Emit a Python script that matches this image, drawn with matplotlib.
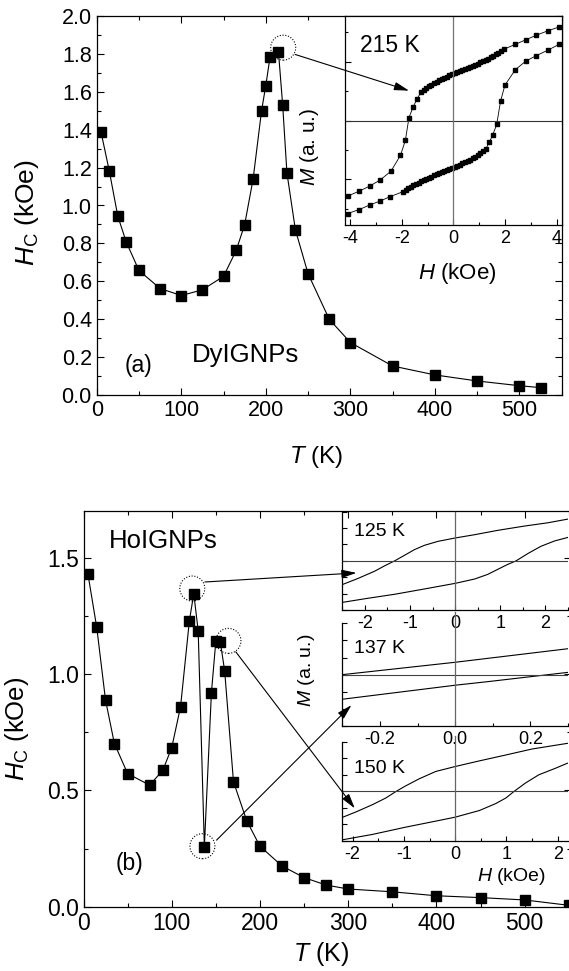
import matplotlib
matplotlib.use("Agg")
import matplotlib.pyplot as plt
from matplotlib.ticker import MultipleLocator, NullFormatter
from matplotlib.patches import FancyArrowPatch

plt.rcParams['font.family'] = ['Liberation Sans', 'DejaVu Sans']
plt.rcParams['mathtext.fontset'] = 'custom'
plt.rcParams['mathtext.rm'] = 'Liberation Sans'
plt.rcParams['mathtext.it'] = 'Liberation Sans:italic'
plt.rcParams['axes.unicode_minus'] = False
plt.rcParams['xtick.direction'] = 'in'
plt.rcParams['ytick.direction'] = 'in'

# ---- (a) DyIGNPs coercivity vs T
T_dy = [5, 15, 25, 35, 50, 75, 100, 125, 150, 165, 175, 185, 195, 200, 205,
        215, 220, 225, 235, 250, 275, 300, 350, 400, 450, 500, 525]
Hc_dy = [1.39, 1.18, 0.943, 0.807, 0.657, 0.562, 0.525, 0.555, 0.626, 0.763,
         0.899, 1.14, 1.50, 1.633, 1.783, 1.81, 1.528, 1.172, 0.872, 0.64,
         0.40, 0.277, 0.153, 0.106, 0.074, 0.049, 0.039]

# 215 K loop (arbitrary units), descending branch then ascending branch
H_dn = [4.1, 3.65, 3.2, 2.8, 2.4,
        1.95, 1.85, 1.75, 1.65, 1.55, 1.45, 1.35, 1.25, 1.15, 1.05, 0.95,
        0.85, 0.75, 0.65, 0.55, 0.45, 0.35, 0.25, 0.15, 0.05, -0.05, -0.15,
        -0.25, -0.35, -0.45, -0.55, -0.65, -0.75, -0.85, -0.95, -1.05, -1.15,
        -1.25, -1.41, -1.55, -1.72, -1.86, -2.05, -2.42, -2.85, -3.25, -3.65, -4.1]
M_dn = [0.94, 0.90, 0.855, 0.81, 0.765,
        0.715, 0.695, 0.68, 0.665, 0.65, 0.635, 0.62, 0.61, 0.595, 0.585, 0.572,
        0.56, 0.55, 0.54, 0.528, 0.517, 0.506, 0.495, 0.485, 0.475, 0.464, 0.453,
        0.441, 0.429, 0.416, 0.403, 0.389, 0.375, 0.36, 0.344, 0.327, 0.308,
        0.285, 0.217, 0.14, 0.03, -0.20, -0.35, -0.51, -0.60, -0.66, -0.71, -0.76]
H_up = [-4.1, -3.65, -3.25, -2.85, -2.45,
        -1.95, -1.85, -1.75, -1.65, -1.55, -1.45, -1.35, -1.25, -1.15, -1.05,
        -0.95, -0.85, -0.75, -0.65, -0.55, -0.45, -0.35, -0.25, -0.15, -0.05,
        0.05, 0.15, 0.25, 0.35, 0.45, 0.55, 0.65, 0.75, 0.85, 0.95, 1.05, 1.15,
        1.25, 1.40, 1.52, 1.68, 1.83, 2.0, 2.4, 2.8, 3.2, 3.65, 4.1]
M_up = [-0.935, -0.895, -0.85, -0.81, -0.765,
        -0.715, -0.697, -0.682, -0.667, -0.652, -0.638, -0.624, -0.612, -0.598,
        -0.587, -0.575, -0.563, -0.552, -0.541, -0.53, -0.519, -0.508, -0.497,
        -0.487, -0.477, -0.467, -0.456, -0.444, -0.432, -0.419, -0.406, -0.392,
        -0.378, -0.363, -0.347, -0.33, -0.311, -0.288, -0.215, -0.15, -0.04,
        0.195, 0.355, 0.51, 0.595, 0.65, 0.705, 0.765]

# ---- (b) HoIGNPs coercivity vs T
T_ho = [5, 15, 25, 35, 50, 75, 90, 100, 110, 120, 125, 130, 137, 145, 150,
        155, 160, 170, 185, 200, 225, 250, 275, 300, 350, 400, 450, 500, 550]
Hc_ho = [1.43, 1.20, 0.887, 0.701, 0.572, 0.522, 0.587, 0.683, 0.859, 1.228,
         1.345, 1.185, 0.258, 0.920, 1.141, 1.139, 1.013, 0.537, 0.369, 0.260,
         0.175, 0.125, 0.093, 0.076, 0.064, 0.047, 0.039, 0.029, 0.006]

# inset loops (arbitrary units)
H125_dn = [2.53, 2.05, 1.53, 0.94, 0.43, 0.0, -0.38, -0.68, -0.90, -1.12,
           -1.34, -1.56, -1.78, -2.15, -2.52]
M125_dn = [0.855, 0.774, 0.707, 0.62, 0.532, 0.465, 0.397, 0.316, 0.229, 0.114,
           0.0, -0.10, -0.209, -0.357, -0.49]
H125_up = [-2.52, -1.93, -1.34, -0.68, 0.0, 0.43, 0.72, 0.94, 1.16, 1.35,
           1.61, 1.90, 2.2, 2.53]
M125_up = [-0.848, -0.761, -0.68, -0.572, -0.458, -0.37, -0.276, -0.175,
           -0.074, 0.0, 0.148, 0.296, 0.404, 0.485]

H137_dn = [0.31, 0.0, -0.30]
M137_dn = [0.514, 0.241, 0.0]
H137_up = [-0.30, 0.0, 0.087, 0.31]
M137_up = [-0.479, -0.206, -0.136, 0.053]

H150_dn = [2.19, 1.50, 0.99, 0.47, 0.0, -0.38, -0.70, -0.96, -1.15, -1.35,
           -1.61, -1.93, -2.22]
M150_dn = [0.967, 0.853, 0.733, 0.613, 0.50, 0.40, 0.253, 0.113, 0.0, -0.133,
           -0.267, -0.413, -0.533]
H150_up = [-2.22, -1.61, -0.96, -0.38, 0.0, 0.47, 0.79, 0.99, 1.15, 1.37,
           1.63, 1.96, 2.19]
M150_up = [-0.98, -0.867, -0.72, -0.60, -0.52, -0.387, -0.247, -0.133, 0.0,
           0.167, 0.333, 0.467, 0.567]

W, Hf = 569, 971
fig = plt.figure(figsize=(W / 100, Hf / 100), dpi=100)


def box(l, t, r, b):
    return [l / W, 1 - b / Hf, (r - l) / W, (b - t) / Hf]


def style(ax, lw=0.9, maj=5, mnr=3, size=15):
    for s in ax.spines.values():
        s.set_linewidth(lw)
    ax.tick_params(which='both', width=0.8, top=True, right=True, labelsize=size)
    ax.tick_params(which='major', length=maj)
    ax.tick_params(which='minor', length=mnr)


def arrow(ax, a, b):
    p = FancyArrowPatch(a, b, transform=ax.transData, color='k', lw=0.8,
                        arrowstyle='-|>,head_length=0.9,head_width=0.25',
                        mutation_scale=10, shrinkA=0, shrinkB=0, zorder=5)
    fig.add_artist(p)


# ================= panel (a)
ax1 = fig.add_axes(box(96.7, 16, 561.7, 395))
ax1.plot(T_dy, Hc_dy, 'k-', lw=0.8, marker='s', ms=6.5)
ax1.set_xlim(0, 550)
ax1.set_ylim(0, 2.0)
ax1.xaxis.set_major_locator(MultipleLocator(100))
ax1.xaxis.set_minor_locator(MultipleLocator(50))
ax1.yaxis.set_major_locator(MultipleLocator(0.2))
ax1.yaxis.set_minor_locator(MultipleLocator(0.1))
style(ax1, size=15.5)
ax1.set_xlabel(r'$\mathit{T}$ (K)', fontsize=17.5)
ax1.set_ylabel(r'$\mathit{H}_{\mathrm{C}}$ (kOe)', fontsize=19)
ax1.xaxis.set_label_coords(0.473, -0.13)
ax1.yaxis.set_label_coords(-0.12, 0.48)
ax1.text(112.4, 0.176, 'DyIGNPs', fontsize=18.5)
ax1.text(33.5, 0.122, '(a)', fontsize=16.5)
ax1.scatter([220.6], [1.833], s=18 ** 2, facecolors='none', edgecolors='k',
            linewidths=0.8, linestyle=(0, (1, 1.5)), zorder=4, clip_on=False)
arrow(ax1, (234.8, 1.797), (369.4, 1.606))

in1 = fig.add_axes(box(345, 16, 561.7, 225))
in1.plot(H_dn, M_dn, 'k-', lw=0.6, marker='s', ms=3.4)
in1.plot(H_up, M_up, 'k-', lw=0.6, marker='s', ms=3.4)
in1.axhline(0, color='0.2', lw=0.8)
in1.axvline(0, color='0.45', lw=0.9)
in1.set_xlim(-4.2, 4.2)
in1.set_ylim(-1.05, 1.05)
in1.xaxis.set_major_locator(MultipleLocator(2))
in1.xaxis.set_minor_locator(MultipleLocator(1))
in1.set_yticks([-0.59, 0, 0.59])
in1.set_yticks([-0.885, -0.295, 0.295, 0.885], minor=True)
in1.yaxis.set_major_formatter(NullFormatter())
style(in1, maj=4, mnr=2.5, size=13)
in1.tick_params(which='both', top=False, right=False)
in1.set_xlabel(r'$\mathit{H}$ (kOe)', fontsize=16)
in1.xaxis.set_label_coords(0.52, -0.17)
in1.set_ylabel(r'$\mathit{M}$ (a. u.)', fontsize=15)
in1.yaxis.set_label_coords(-0.11, 0.373)
in1.text(0.07, 0.861, '215 K', transform=in1.transAxes, fontsize=16.5, va='center')

# ================= panel (b)
ax2 = fig.add_axes(box(83.5, 511, 570.5, 906.7))
ax2.plot(T_ho, Hc_ho, 'k-', lw=0.8, marker='s', ms=6.5)
ax2.set_xlim(0, 552)
ax2.set_ylim(0, 1.7)
ax2.xaxis.set_major_locator(MultipleLocator(100))
ax2.xaxis.set_minor_locator(MultipleLocator(50))
ax2.yaxis.set_major_locator(MultipleLocator(0.5))
ax2.yaxis.set_minor_locator(MultipleLocator(0.25))
style(ax2, size=16.5)
ax2.set_xlabel(r'$\mathit{T}$ (K)', fontsize=18)
ax2.set_ylabel(r'$\mathit{H}_{\mathrm{C}}$ (kOe)', fontsize=18.5)
ax2.xaxis.set_label_coords(0.488, -0.085)
ax2.yaxis.set_label_coords(-0.108, 0.45)
ax2.text(29, 1.539, 'HoIGNPs', fontsize=18.5)
ax2.text(36, 0.158, '(b)', fontsize=16.5)
ax2.scatter([123.3, 134.8, 164.3], [1.367, 0.260, 1.142], s=18 ** 2,
            facecolors='none', edgecolors='k', linewidths=0.8,
            linestyle=(0, (1, 1.5)), zorder=4, clip_on=False)
arrow(ax2, (137.6, 1.395), (309.4, 1.434))
arrow(ax2, (150.8, 0.286), (303.7, 0.866))
arrow(ax2, (172.6, 1.095), (307.5, 0.4225))

loops = [
    ((342.3, 511.7, 568, 610), (-2.5, 2.5), 1, 0.5, H125_dn, M125_dn, H125_up, M125_up, '125 K', 0.80, 1.0),
    ((342.3, 623.3, 568, 726), (-0.3, 0.3), 0.2, 0.1, H137_dn, M137_dn, H137_up, M137_up, '137 K', 0.757, 1.11),
    ((342.3, 741.7, 568, 841), (-2.2, 2.2), 1, 0.5, H150_dn, M150_dn, H150_up, M150_up, '150 K', 0.732, 1.06),
]
insets = []
for pos, xl, mj, mn, hd, md, hu, mu, lab, ly, vtop in loops:
    ax = fig.add_axes(box(*pos))
    ax.set_facecolor('none')
    ax.plot(hd, md, 'k-', lw=0.8)
    ax.plot(hu, mu, 'k-', lw=0.8)
    ax.axhline(0, color='0.25', lw=0.8)
    ax.axvline(0, ymax=vtop, color='0.4', lw=0.9, clip_on=False)
    ax.set_xlim(*xl)
    ax.set_ylim(-1, 1)
    ax.xaxis.set_major_locator(MultipleLocator(mj))
    ax.xaxis.set_minor_locator(MultipleLocator(mn))
    ax.yaxis.set_major_locator(MultipleLocator(1 / 3))
    ax.yaxis.set_major_formatter(NullFormatter())
    style(ax, maj=3.5, mnr=2, size=13)
    ax.tick_params(which='both', top=False, right=False)
    ax.spines['top'].set_visible(False)
    ax.spines['right'].set_visible(False)
    ax.text(0.05, ly, lab, transform=ax.transAxes, fontsize=14, va='center')
    insets.append(ax)

insets[0].set_xticklabels([f'{v:g}' for v in insets[0].get_xticks()])
insets[1].set_ylabel(r'$\mathit{M}$ (a. u.)', fontsize=14)
insets[1].yaxis.set_label_coords(-0.112, 0.545)
insets[2].set_xlabel(r'$\mathit{H}$ (kOe)', fontsize=14)
insets[2].xaxis.set_label_coords(0.75, -0.25)

fig.savefig('out.png', dpi=100)
